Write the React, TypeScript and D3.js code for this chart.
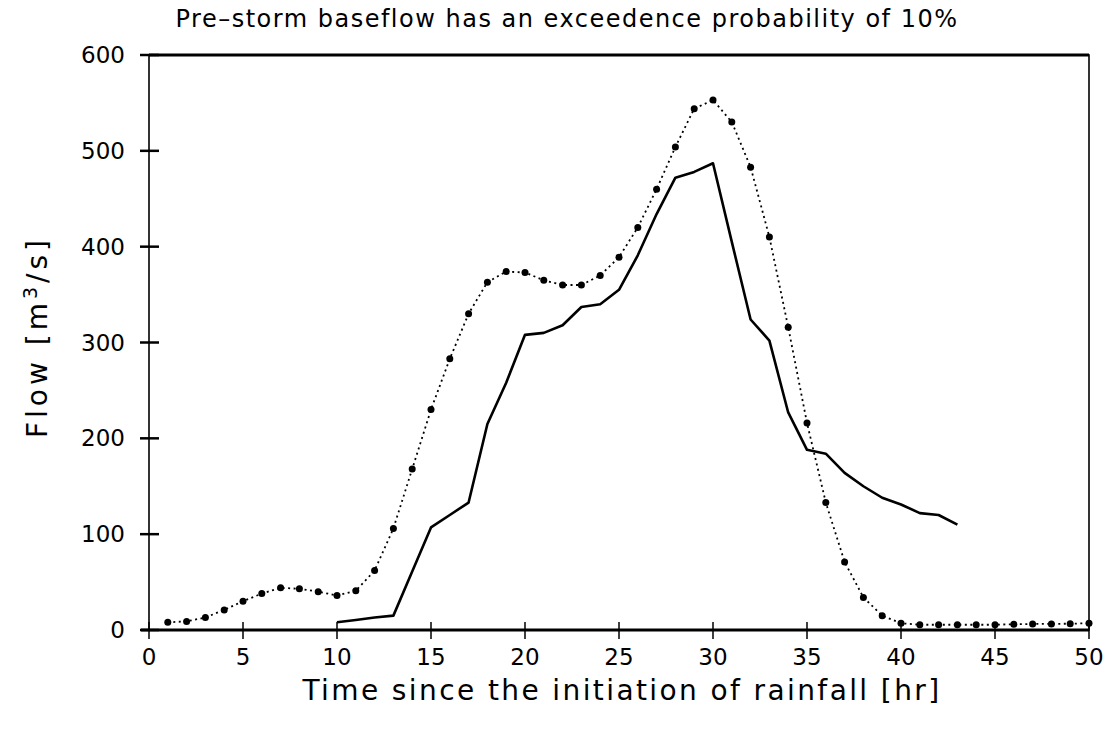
import React from 'react';
import * as d3 from 'd3';

// dotted series with markers, one value per hour (t = 1..50)
const dottedHours = d3.range(1, 51);
const dottedFlow = [
  8, 9, 13, 21, 30, 38, 44, 43, 40, 36,
  41, 62, 106, 168, 230, 283, 330, 363, 374, 373,
  365, 360, 360, 370, 389, 420, 460, 504, 544, 553,
  530, 483, 410, 316, 216, 133, 71, 34, 15, 7,
  5.5, 5.5, 5.5, 5.5, 5.5, 6, 6.3, 6.3, 6.6, 7,
];

// solid series, t = 10..43
const solidHours = d3.range(10, 44);
const solidFlow = [
  8, 10.5, 13, 15, 61, 107, 120, 133, 215, 258,
  308, 310, 318, 337, 340, 355, 391, 434, 472, 478,
  487, 405, 324, 302, 227, 188, 184, 164, 150, 138,
  131, 122, 120, 110,
];

const xTicks = [0, 5, 10, 15, 20, 25, 30, 35, 40, 45, 50];
const yTicks = [0, 100, 200, 300, 400, 500, 600];

const W = 1116;
const H = 732;
const FONT = "'DejaVu Sans', sans-serif";

export default function App() {
  const x = d3.scaleLinear().domain([0, 50]).range([149, 1089]);
  const y = d3.scaleLinear().domain([0, 600]).range([630, 55]);

  const dotted = dottedHours.map((t, i) => [t, dottedFlow[i]] as [number, number]);
  const solid = solidHours.map((t, i) => [t, solidFlow[i]] as [number, number]);

  const line = d3.line<[number, number]>()
    .x(d => x(d[0]))
    .y(d => y(d[1]));

  return (
    <svg width={W} height={H} style={{ position: 'absolute', left: 0, top: 0, background: '#fff' }}>
      <rect x={0} y={0} width={W} height={H} fill="#fff" />

      <text x={567} y={27} textAnchor="middle" fontFamily={FONT} fontSize={24} letterSpacing={1.5} fill="#000">
        Pre–storm baseflow has an exceedence probability of 10%
      </text>

      {/* frame */}
      <rect x={x(0)} y={y(600)} width={x(50) - x(0)} height={y(0) - y(600)}
        fill="none" stroke="#000" strokeWidth={1.6} />
      <line x1={x(0)} x2={x(50)} y1={y(600)} y2={y(600)} stroke="#000" strokeWidth={3} />
      <line x1={x(0) - 8} x2={x(50)} y1={y(0)} y2={y(0)} stroke="#000" strokeWidth={3} />

      {/* y axis ticks */}
      {yTicks.map(v => (
        <g key={'y' + v}>
          <line x1={x(0) - 9} x2={x(0) + 10} y1={y(v)} y2={y(v)} stroke="#000" strokeWidth={2.5} />
          <text x={125} y={y(v) + 8} textAnchor="end" fontFamily={FONT} fontSize={23} fill="#000">{v}</text>
        </g>
      ))}

      {/* x axis ticks */}
      {xTicks.map(v => (
        <g key={'x' + v}>
          <line x1={x(v)} x2={x(v)} y1={y(0) - 8} y2={y(0) + 9} stroke="#000" strokeWidth={1.5} />
          <text x={x(v)} y={y(0) + 35} textAnchor="middle" fontFamily={FONT} fontSize={23} fill="#000">{v}</text>
        </g>
      ))}

      <text x={622} y={700} textAnchor="middle" fontFamily={FONT} fontSize={28} letterSpacing={2.4} fill="#000">
        Time since the initiation of rainfall [hr]
      </text>
      <text transform="translate(47,337) rotate(-90)" textAnchor="middle" fontFamily={FONT} fontSize={28} letterSpacing={4} fill="#000">
        Flow [m<tspan dy={-10} fontSize={19}>3</tspan><tspan dy={10}>/s]</tspan>
      </text>

      {/* dotted series */}
      <path d={line(dotted) || ''} fill="none" stroke="#000" strokeWidth={1.8} strokeDasharray="2,3.5" />
      {dotted.map((d, i) => (
        <circle key={'d' + i} cx={x(d[0])} cy={y(d[1])} r={3.5} fill="#000" />
      ))}

      {/* solid series */}
      <path d={line(solid) || ''} fill="none" stroke="#000" strokeWidth={2.6} strokeLinejoin="round" />
    </svg>
  );
}
